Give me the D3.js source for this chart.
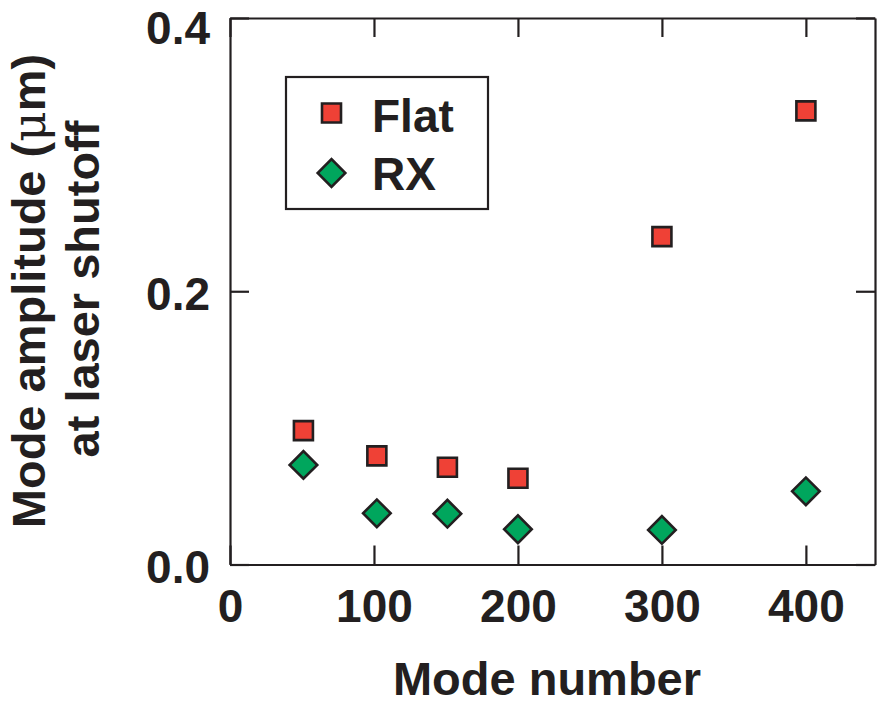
<!DOCTYPE html>
<html>
<head>
<meta charset="utf-8">
<script src="https://cdn.jsdelivr.net/npm/d3@7"></script>
<style>
  html, body { margin: 0; padding: 0; background: #fff; }
  svg { display: block; }
  text { font-family: "Liberation Sans", Arial, Helvetica, sans-serif; font-weight: bold; fill: #231f20; }
</style>
</head>
<body>
<svg id="chart" width="878" height="706"></svg>
<script>
// Mode number for each measurement
const modesFlat = [51, 102, 151, 200, 300, 400];
const modesRX   = [51, 102, 151, 200, 300, 400];
// Mode amplitude at laser shutoff (µm)
const ampFlat = [0.098, 0.0795, 0.0712, 0.0631, 0.240, 0.332];
const ampRX   = [0.0729, 0.0375, 0.0372, 0.0258, 0.0253, 0.0536];

const xTicks = [0, 100, 200, 300, 400];
const yTicks = [0.0, 0.2, 0.4];
const seriesNames = ["Flat", "RX"];
const seriesColors = ["#ef4136", "#00a65d"];

const ink = "#231f20";
const svg = d3.select("#chart");
const m = { left: 230, right: 875, top: 18, bottom: 564.5 };

const x = d3.scaleLinear().domain([0, 448]).range([m.left, m.right]);
const y = d3.scaleLinear().domain([0, 0.4]).range([m.bottom, m.top]);

const tick = 19;
const fmtY = d3.format(".1f");

function styleAxis(g, showText) {
  g.selectAll("path.domain").attr("stroke", ink).attr("stroke-width", 2.2);
  g.selectAll(".tick line").attr("stroke", ink).attr("stroke-width", 2.2);
  g.selectAll(".tick text")
    .attr("font-size", 46)
    .attr("font-family", "Liberation Sans, Arial, sans-serif")
    .attr("font-weight", "bold")
    .attr("fill", ink);
  if (!showText) g.selectAll(".tick text").remove();
}

// bottom axis with labels
svg.append("g")
  .attr("transform", `translate(0,${m.bottom})`)
  .call(d3.axisBottom(x).tickValues(xTicks).tickSizeInner(-tick).tickSizeOuter(0).tickPadding(25))
  .call(g => styleAxis(g, true));

// top mirror axis
svg.append("g")
  .attr("transform", `translate(0,${m.top})`)
  .call(d3.axisTop(x).tickValues(xTicks).tickSizeInner(-tick).tickSizeOuter(0))
  .call(g => styleAxis(g, false));

// left axis with labels; the top label is nudged down to stay inside the page
svg.append("g")
  .attr("transform", `translate(${m.left},0)`)
  .call(d3.axisLeft(y).tickValues(yTicks).tickFormat(fmtY).tickSizeInner(-tick).tickSizeOuter(0).tickPadding(20))
  .call(g => styleAxis(g, true))
  .call(g => g.selectAll(".tick text").attr("dy", d => d >= 0.4 ? "0.55em" : "0.4em"));

// right mirror axis
svg.append("g")
  .attr("transform", `translate(${m.right},0)`)
  .call(d3.axisRight(y).tickValues(yTicks).tickSizeInner(-tick).tickSizeOuter(0))
  .call(g => styleAxis(g, false));

// markers
const squarePath = d3.symbol().type(d3.symbolSquare).size(19 * 19)();
const diamondPath = d3.symbol().type(d3.symbolSquare).size(19.5 * 19.5)();

const plot = svg.append("g");
plot.selectAll("path.flat")
  .data(modesFlat.map((mn, i) => [mn, ampFlat[i]]))
  .join("path")
  .attr("class", "flat")
  .attr("d", squarePath)
  .attr("transform", d => `translate(${x(d[0])},${y(d[1])})`)
  .attr("fill", seriesColors[0])
  .attr("stroke", ink)
  .attr("stroke-width", 2.6);

plot.selectAll("path.rx")
  .data(modesRX.map((mn, i) => [mn, ampRX[i]]))
  .join("path")
  .attr("class", "rx")
  .attr("d", diamondPath)
  .attr("transform", d => `translate(${x(d[0])},${y(d[1])}) rotate(45)`)
  .attr("fill", seriesColors[1])
  .attr("stroke", ink)
  .attr("stroke-width", 2.6);

// legend
const legend = svg.append("g");
legend.append("rect")
  .attr("x", 286).attr("y", 77).attr("width", 202).attr("height", 132)
  .attr("fill", "#fff").attr("stroke", ink).attr("stroke-width", 2.2);

const legendRows = [
  { name: seriesNames[0], path: squarePath, rot: 0, color: seriesColors[0], cy: 113, base: 131.5 },
  { name: seriesNames[1], path: diamondPath, rot: 45, color: seriesColors[1], cy: 173, base: 190 }
];
legendRows.forEach(r => {
  legend.append("path")
    .attr("d", r.path)
    .attr("transform", `translate(331.5,${r.cy}) rotate(${r.rot})`)
    .attr("fill", r.color).attr("stroke", ink).attr("stroke-width", 2.6);
  legend.append("text")
    .attr("x", 372).attr("y", r.base)
    .attr("font-size", 46)
    .text(r.name);
});

// axis titles
svg.append("text")
  .attr("x", 547).attr("y", 695)
  .attr("text-anchor", "middle")
  .attr("font-size", 47)
  .text("Mode number");

const yTitle = svg.append("text")
  .attr("transform", "translate(45,291) rotate(-90)")
  .attr("text-anchor", "middle")
  .attr("font-size", 47);
yTitle.append("tspan").text("Mode amplitude (");
yTitle.append("tspan")
  .attr("font-weight", "normal")
  .attr("font-family", "DejaVu Serif, Liberation Serif, serif")
  .text("μ");
yTitle.append("tspan").text("m)");

svg.append("text")
  .attr("transform", "translate(99,289) rotate(-90)")
  .attr("text-anchor", "middle")
  .attr("font-size", 47)
  .text("at laser shutoff");
</script>
</body>
</html>
